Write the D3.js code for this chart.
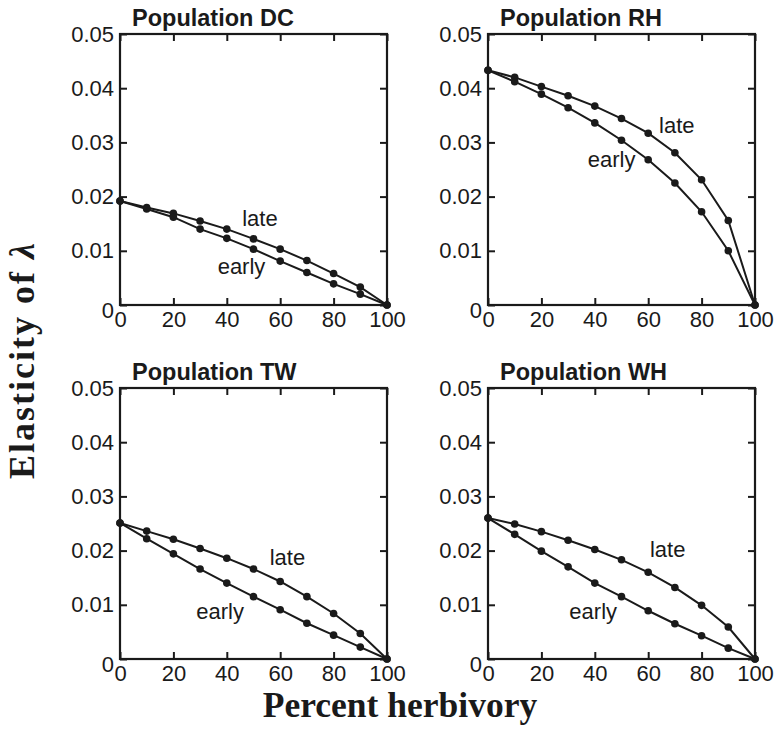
<!DOCTYPE html>
<head>
    <meta charset="UTF-8">
    <title>Elasticity of lambda</title>
    <style>
        body { margin: 0; background: #fff; }
        text { fill: #1a1a1a; }
    </style>
</head>
<body>
    <script src="https://d3js.org/d3.v7.min.js"></script>
    <script>
        // percent herbivory on the x axis
        var herbivory = [0, 10, 20, 30, 40, 50, 60, 70, 80, 90, 100]
        var xTicks = [0, 20, 40, 60, 80, 100]
        var yTicks = [0, 0.01, 0.02, 0.03, 0.04, 0.05]

        // elasticity values
        var dcLate  = [0.0192, 0.0180, 0.0169, 0.0155, 0.0140, 0.0122, 0.0103, 0.0082, 0.0058, 0.0033, 0]
        var dcEarly = [0.0192, 0.0177, 0.0162, 0.0140, 0.0123, 0.0103, 0.0081, 0.0060, 0.0039, 0.0020, 0]
        var rhLate  = [0.0433, 0.0420, 0.0403, 0.0386, 0.0367, 0.0344, 0.0317, 0.0281, 0.0231, 0.0156, 0]
        var rhEarly = [0.0433, 0.0412, 0.0389, 0.0364, 0.0336, 0.0304, 0.0268, 0.0225, 0.0172, 0.0100, 0]
        var twLate  = [0.0251, 0.0236, 0.0221, 0.0204, 0.0186, 0.0166, 0.0143, 0.0115, 0.0084, 0.0047, 0]
        var twEarly = [0.0251, 0.0222, 0.0194, 0.0166, 0.0140, 0.0115, 0.0091, 0.0066, 0.0044, 0.0022, 0]
        var whLate  = [0.0260, 0.0249, 0.0235, 0.0219, 0.0202, 0.0183, 0.0160, 0.0132, 0.0099, 0.0059, 0]
        var whEarly = [0.0260, 0.0230, 0.0199, 0.0170, 0.0140, 0.0115, 0.0089, 0.0065, 0.0043, 0.0020, 0]

        var titles = ["Population DC", "Population RH", "Population TW", "Population WH"]
        var lateSeries = [dcLate, rhLate, twLate, whLate]
        var earlySeries = [dcEarly, rhEarly, twEarly, whEarly]
        // where the "late" / "early" words sit, in data units [x, y]
        var lateLabelPos = [[52.4, 0.0146], [70.7, 0.0317], [62.7, 0.0174], [67.3, 0.0189]]
        var earlyLabelPos = [[45.5, 0.0057], [46.3, 0.0255], [37.5, 0.0074], [39.4, 0.0074]]

        var width = 780
        var height = 736
        var ink = "#1a1a1a"
        var sans = "'Liberation Sans', Arial, sans-serif"
        var serif = "'Liberation Serif', 'Times New Roman', serif"

        // panel boxes (left, top) ; all panels same size
        var panelW = 267
        var panelH = 271
        var panels = [
            { left: 120, top: 34 },
            { left: 488, top: 34 },
            { left: 120, top: 388 },
            { left: 488, top: 388 }
        ]

        var svg = d3.select("body")
            .append("svg")
            .attr("width", width)
            .attr("height", height)

        var x = d3.scaleLinear().domain([0, 100]).range([0, panelW])
        var y = d3.scaleLinear().domain([0, 0.05]).range([panelH, 0])

        var line = d3.line()
            .x(function(d){ return x(d[0]) })
            .y(function(d){ return y(d[1]) })

        var yFormat = function(d){ return d === 0 ? "0" : d.toFixed(2) }

        panels.forEach(function(p, i){
            var g = svg.append("g").attr("transform", "translate(" + p.left + "," + p.top + ")")

            // -- axes with inward ticks --
            var bottom = g.append("g").attr("transform", "translate(0," + panelH + ")")
                .call(d3.axisBottom(x).tickValues(xTicks).tickSizeInner(-7).tickSizeOuter(0).tickPadding(6))
            var top = g.append("g")
                .call(d3.axisTop(x).tickValues(xTicks).tickSizeInner(-7).tickSizeOuter(0).tickFormat(""))
            var left = g.append("g")
                .call(d3.axisLeft(y).tickValues(yTicks).tickSizeInner(-7).tickSizeOuter(0).tickPadding(6).tickFormat(yFormat))
            var right = g.append("g").attr("transform", "translate(" + panelW + ",0)")
                .call(d3.axisRight(y).tickValues(yTicks).tickSizeInner(-7).tickSizeOuter(0).tickFormat(""))

            ;[bottom, top, left, right].forEach(function(a){
                a.selectAll(".domain").remove()
                a.selectAll("line").attr("stroke", ink).attr("stroke-width", 2)
                a.selectAll("text").attr("font-family", sans).attr("font-size", "22px").attr("fill", ink)
            })
            left.selectAll("text").filter(function(d){ return d === 0 }).attr("dy", "0.55em")

            g.append("rect")
                .attr("width", panelW)
                .attr("height", panelH)
                .attr("fill", "none")
                .attr("stroke", ink)
                .attr("stroke-width", 2.2)

            // -- lines and dots --
            ;[lateSeries[i], earlySeries[i]].forEach(function(vals){
                var pts = herbivory.map(function(h, k){ return [h, vals[k]] })
                g.append("path")
                    .attr("d", line(pts))
                    .attr("fill", "none")
                    .attr("stroke", ink)
                    .attr("stroke-width", 2)
                g.selectAll(null).data(pts).enter()
                    .append("circle")
                    .attr("cx", function(d){ return x(d[0]) })
                    .attr("cy", function(d){ return y(d[1]) })
                    .attr("r", 3.8)
                    .attr("fill", ink)
            })

            // -- labels --
            g.append("text")
                .attr("x", x(lateLabelPos[i][0]))
                .attr("y", y(lateLabelPos[i][1]))
                .attr("text-anchor", "middle")
                .attr("font-family", sans)
                .attr("font-size", "22px")
                .text("late")
            g.append("text")
                .attr("x", x(earlyLabelPos[i][0]))
                .attr("y", y(earlyLabelPos[i][1]))
                .attr("text-anchor", "middle")
                .attr("font-family", sans)
                .attr("font-size", "22px")
                .text("early")

            g.append("text")
                .attr("x", 12)
                .attr("y", -8)
                .attr("font-family", sans)
                .attr("font-weight", "bold")
                .attr("font-size", "23.5px")
                .text(titles[i])
        })

        // -- shared axis titles --
        svg.append("text")
            .attr("transform", "translate(34,360) rotate(-90)")
            .attr("text-anchor", "middle")
            .attr("font-family", serif)
            .attr("font-weight", "bold")
            .attr("font-size", "36px")
            .attr("letter-spacing", "2px")
            .html("Elasticity of <tspan font-style='italic'>λ</tspan>")

        svg.append("text")
            .attr("x", 400)
            .attr("y", 717)
            .attr("text-anchor", "middle")
            .attr("font-family", serif)
            .attr("font-weight", "bold")
            .attr("font-size", "35.5px")
            .text("Percent herbivory")
    </script>
</body>
</html>
